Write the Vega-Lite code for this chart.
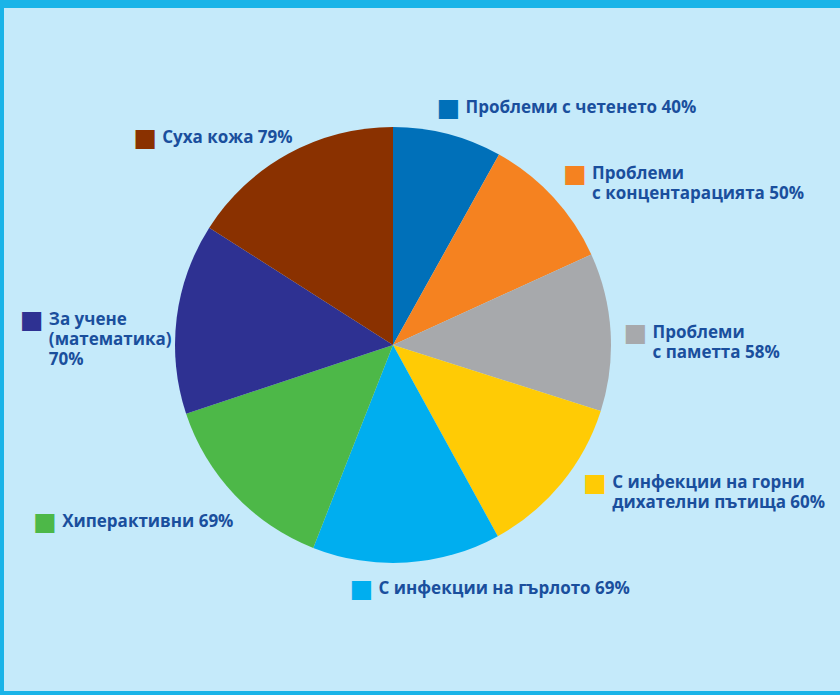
{
  "$schema": "https://vega.github.io/schema/vega-lite/v6.json",
  "width": 840,
  "height": 695,
  "autosize": {"type": "fit", "contains": "padding"},
  "padding": {"left": 4, "top": 8, "right": 0, "bottom": 4},
  "background": "#1ab4e8",
  "config": {"view": {"stroke": null}},
  "data": {
    "values": [
      {"id": 1, "category": "Проблеми с четенето", "value": 40, "label": "Проблеми с четенето 40%"},
      {"id": 2, "category": "Проблеми с концентарацията", "value": 50, "label": "Проблеми\nс концентарацията 50%"},
      {"id": 3, "category": "Проблеми с паметта", "value": 58, "label": "Проблеми\nс паметта 58%"},
      {"id": 4, "category": "С инфекции на горни дихателни пътища", "value": 60, "label": "С инфекции на горни\nдихателни пътища  60%"},
      {"id": 5, "category": "С инфекции на гърлото", "value": 69, "label": "С инфекции на гърлото 69%"},
      {"id": 6, "category": "Хиперактивни", "value": 69, "label": "Хиперактивни  69%"},
      {"id": 7, "category": "За учене (математика)", "value": 70, "label": "За учене\n(математика)\n70%"},
      {"id": 8, "category": "Суха кожа", "value": 79, "label": "Суха кожа 79%"}
    ]
  },
  "layer": [
    {
      "mark": {"type": "rect", "color": "#c5eafa"},
      "encoding": {}
    },
    {
      "mark": {"type": "arc", "outerRadius": 218, "x": {"expr": "width / 2 - 29"}, "y": {"expr": "height / 2 - 4.5"}},
      "encoding": {
        "theta": {"field": "value", "type": "quantitative", "stack": true},
        "order": {"field": "id", "type": "quantitative"},
        "color": {
          "field": "category",
          "type": "nominal",
          "scale": {
            "domain": ["Проблеми с четенето", "Проблеми с концентарацията", "Проблеми с паметта", "С инфекции на горни дихателни пътища", "С инфекции на гърлото", "Хиперактивни", "За учене (математика)", "Суха кожа"],
            "range": ["#0070b9", "#f58220", "#a7a9ac", "#ffcb05", "#00aeef", "#4db848", "#2e3192", "#8a3100"]
          },
          "legend": null
        }
      }
    },
    {
      "mark": {
        "type": "text",
        "text": "■",
        "font": "DejaVu Sans",
        "fontSize": 25,
        "align": "center",
        "baseline": "middle",
        "radius": 245,
        "x": {"expr": "width / 2 - 29"},
        "y": {"expr": "height / 2 - 4.5"},
        "dx": {"expr": "[-6, 2, -2, 13, -47, -170, -118, -130][datum.id - 1]"},
        "dy": {"expr": "[0, -5, 3, -18, -1, 8, 5, 8][datum.id - 1]"}
      },
      "encoding": {
        "theta": {"field": "value", "type": "quantitative", "stack": true},
        "order": {"field": "id", "type": "quantitative"},
        "color": {"field": "category", "type": "nominal", "legend": null}
      }
    },
    {
      "mark": {
        "type": "text",
        "font": "Open Sans",
        "fontWeight": "bold",
        "fontSize": 17,
        "lineBreak": "\n",
        "lineHeight": 20,
        "align": "left",
        "baseline": "top",
        "color": "#1a4f9d",
        "radius": 245,
        "x": {"expr": "width / 2 - 29"},
        "y": {"expr": "height / 2 - 4.5"},
        "dx": {"expr": "[11, 19, 15, 30, -30, -153, -101, -113][datum.id - 1]"},
        "dy": {"expr": "[-8, -13, -5, -26, -9, 0, -3, 0][datum.id - 1]"}
      },
      "encoding": {
        "theta": {"field": "value", "type": "quantitative", "stack": true},
        "order": {"field": "id", "type": "quantitative"},
        "text": {"field": "label", "type": "nominal"}
      }
    }
  ]
}
